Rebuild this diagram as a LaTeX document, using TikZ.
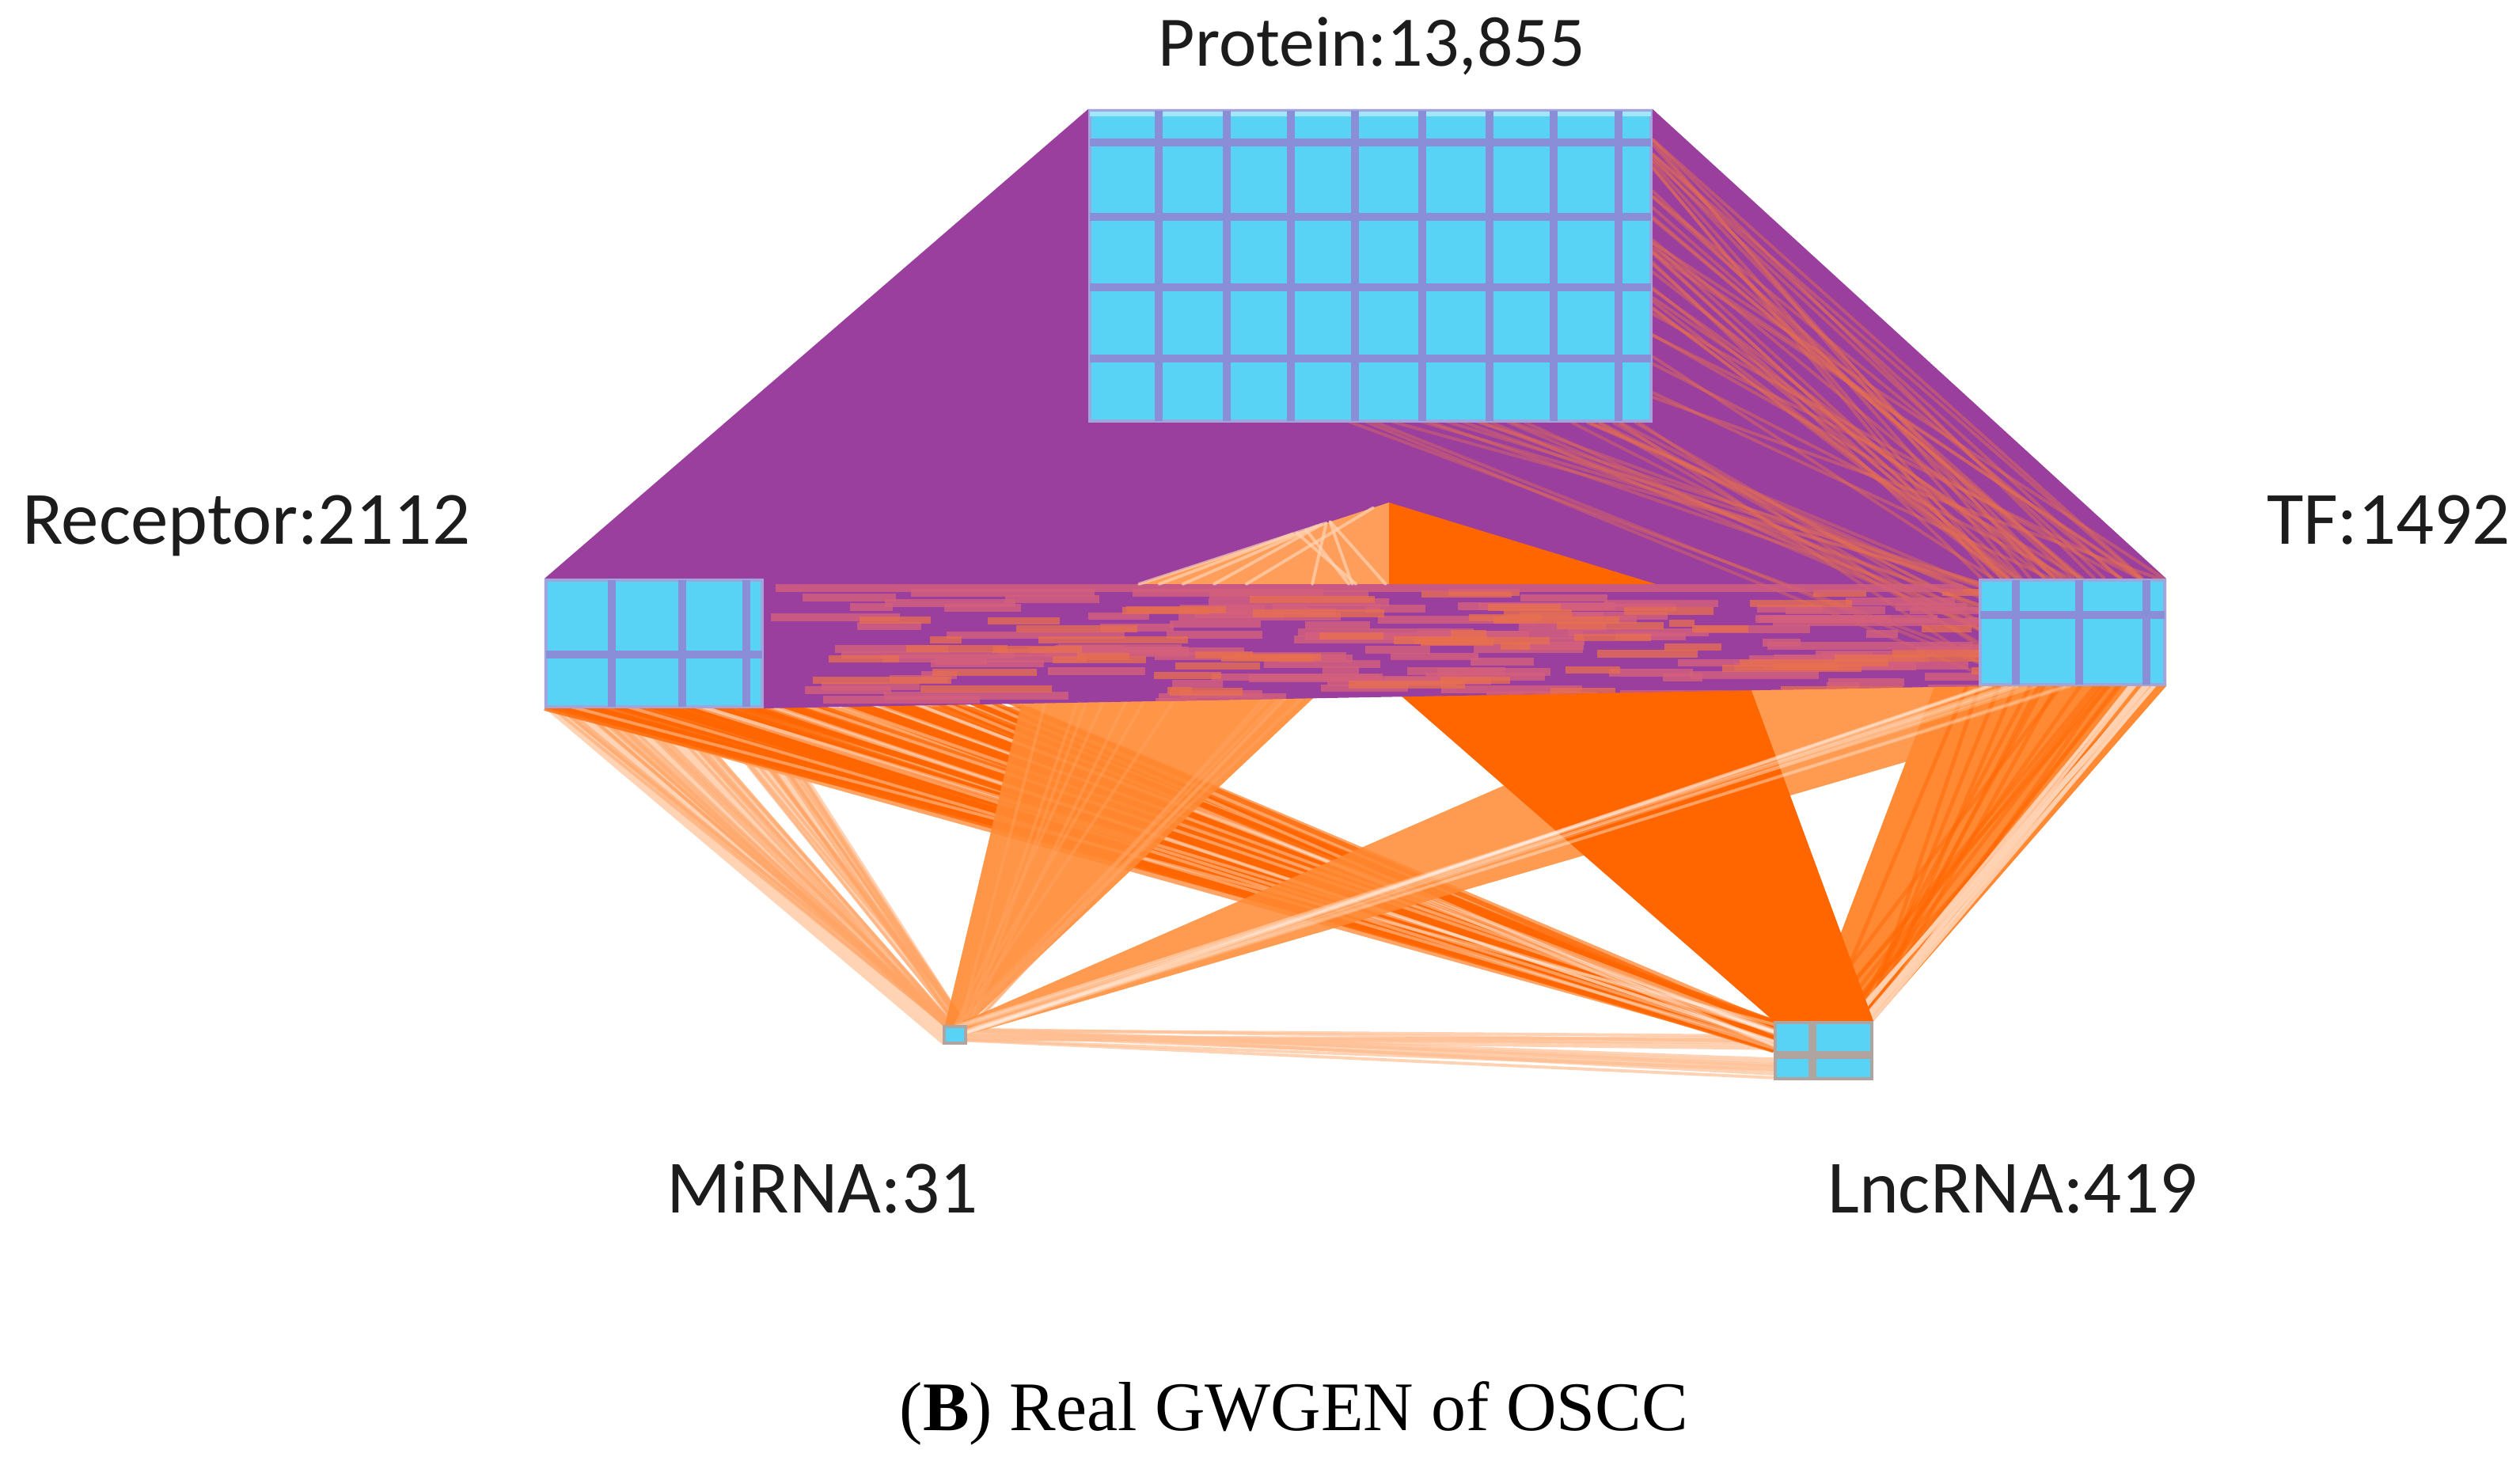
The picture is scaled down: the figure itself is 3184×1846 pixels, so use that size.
\documentclass[tikz,border=0pt]{standalone}
\usepackage{fontspec}
\newfontfamily\labfont{Carlito}
\newfontfamily\capfont{Liberation Serif}
\usetikzlibrary{calc}
\definecolor{cy}{HTML}{58D2F5}
\definecolor{gridc}{HTML}{8A8ED6}
\definecolor{pur}{HTML}{9B3F9E}
\definecolor{dor}{HTML}{FF6600}
\definecolor{mor}{HTML}{FF8A33}
\definecolor{lor}{HTML}{FFA464}
\definecolor{pch}{HTML}{FFD3B4}
\definecolor{sal}{HTML}{E8704F}
\definecolor{pnk}{HTML}{D4607C}
\definecolor{txt}{HTML}{1C1C1C}
\definecolor{lgrid}{HTML}{B0A4A0}
\pgfdeclarelayer{bgl}
\pgfdeclarelayer{edges}
\pgfsetlayers{bgl,edges,main}
\newcommand\bundle[6]{%
  \foreach \k in {1,...,#5}{%
    \pgfmathsetmacro\ra{rnd}%
    \pgfmathsetmacro\rb{rnd}%
    \draw[#6] ($(#1)!\ra!(#2)$) -- ($(#3)!\rb!(#4)$);%
  }}
\tikzset{
  cybox/.style={rectangle, fill=cy, draw=gridc!80!white, line width=1.1pt, inner sep=0pt},
  gridln/.style={gridc, line width=2.6pt},
  lab/.style={font=\labfont\fontsize{27}{30}\selectfont, text=txt, anchor=base, inner sep=0pt},
  capt/.style={font=\capfont\fontsize{25}{28}\selectfont, text=black, anchor=base, inner sep=0pt},
  thinln/.style={line width=1.1pt, line cap=round},
}
\begin{document}
\begin{tikzpicture}[x=0.01cm,y=-0.01cm]
\pgfmathsetseed{7}
\useasboundingbox (0,0) rectangle (3184,1846);
\begin{pgfonlayer}{bgl}
\fill[white] (0,0) rectangle (3184,1846);
\end{pgfonlayer}

% ---- node boxes ----
\node[cybox, minimum width=7.09cm, minimum height=3.92cm] (P) at (1731.5,336) {};
\node[cybox, minimum width=2.73cm, minimum height=1.60cm] (R) at (826.5,813) {};
\node[cybox, minimum width=2.33cm, minimum height=1.32cm] (T) at (2618.5,799) {};
\node[cybox, draw=lgrid, minimum width=0.27cm, minimum height=0.21cm] (M) at (1206.5,1307.5) {};
\node[cybox, draw=lgrid, minimum width=1.22cm, minimum height=0.71cm] (L) at (2304,1327.5) {};

% grid lines
\fill[cy!55!white] (1377,141) rectangle (2086,147);
\foreach \gx in {1464,1550,1631,1712,1797,1882,1963,2045} \draw[gridln] (\gx,140) -- (\gx,532);
\foreach \gy in {180,274,363,453} \draw[gridln] (1377,\gy) -- (2086,\gy);
\foreach \gx in {773,862,943} \draw[gridln] (\gx,733) -- (\gx,893);
\draw[gridln] (690,827) -- (963,827);
\foreach \gx in {2547,2627,2712} \draw[gridln] (\gx,733) -- (\gx,865);
\draw[gridln] (2502,777) -- (2735,777);
\draw[lgrid, line width=2.6pt] (2290,1292) -- (2290,1363);
\draw[lgrid, line width=2.6pt] (2243,1333) -- (2365,1333);

% ---- helper coordinates ----
\coordinate (rA) at (855,893);
\coordinate (rB) at (885,893);
\coordinate (rLU) at (1301,893);
\coordinate (rTop) at (963,750);
\coordinate (pMR) at (2030,532);
\coordinate (tLL) at (2445,865);
\coordinate (lQ) at (2283,1292);
\coordinate (tQ) at (2690,865);
\coordinate (lR) at (2330,1292);
\coordinate (mR1) at (1220,1300);
\coordinate (mR2) at (1220,1318);
\coordinate (lL1) at (2243,1308);
\coordinate (lL2) at (2243,1362);

\begin{pgfonlayer}{edges}
% Receptor - MiRNA (peach fan)
\fill[pch] (R.south west) -- (rA) -- (M.north) -- (M.south west) -- cycle;
\fill[pch] (rB) -- (R.south east) -- (M.north east) -- (M.north) -- cycle;
\bundle{R.south west}{rA}{M.north west}{M.north}{24}{lor, opacity=.55, thinln}
\bundle{rB}{R.south east}{M.north}{M.north east}{14}{lor, opacity=.55, thinln}
% MiRNA - LncRNA
\bundle{mR1}{mR2}{lL1}{lL2}{16}{lor!70!white, opacity=.7, thinln}
% Receptor - LncRNA
\fill[lor] (R.south west) -- (rLU) -- (L.north west) -- (L.west) -- cycle;
\bundle{R.south west}{rTop}{L.north west}{L.west}{75}{dor, opacity=.75, line width=1.7pt}
\bundle{R.south west}{rTop}{L.north west}{L.west}{14}{white, opacity=.35, thinln}
% Protein - MiRNA
\fill[mor, opacity=.9] (P.south west) -- (pMR) -- (M.north east) -- (M.west) -- cycle;
\bundle{P.south west}{pMR}{M.north}{M.east}{14}{lor, opacity=.4, thinln}
% TF - MiRNA
\fill[mor, opacity=.85] (T.north west) -- (T.south east) -- (M.east) -- (M.north) -- cycle;
% TF - LncRNA
\fill[mor] (tLL) -- (T.south east) -- (L.north east) -- (lQ) -- cycle;
\bundle{tLL}{T.south east}{lQ}{L.north east}{18}{dor, opacity=.45, line width=1.4pt}
\bundle{tQ}{T.south east}{lR}{L.north east}{10}{pch, opacity=.9, thinln}
% Protein - LncRNA
\fill[dor] (P.south west) -- (P.south east) -- (L.north east) -- (L.north west) -- cycle;
\bundle{T.south west}{T.south}{M.north}{M.east}{12}{white, opacity=.22, thinln}

% ---- purple region ----
\fill[pur] (R.north west) -- (P.north west) -- (P.north east) -- (T.north east)
  -- (T.south east) -- (T.south west) -- (R.south east) -- (R.south west) -- cycle;
\begin{scope}
\clip (R.north west) -- (P.north west) -- (P.north east) -- (T.north east)
  -- (T.south east) -- (T.south west) -- (R.south east) -- (R.south west) -- cycle;
% diagonal streaks protein -> TF
\bundle{P.north east}{P.south east}{T.north west}{T.north east}{40}{sal, opacity=.45, thinln}
\coordinate (pB) at (1700,532);
\bundle{pB}{P.south east}{T.north west}{T.south west}{25}{sal, opacity=.4, thinln}
% horizontal streaks receptor <-> TF
\foreach \k in {1,...,120}{%
  \pgfmathsetmacro\sx{965+rnd*1530}%
  \pgfmathsetmacro\sy{748+rnd*140}%
  \pgfmathsetmacro\sl{40+rnd*220}%
  \draw[pnk, opacity=.8, line width=2.8pt] (\sx,\sy) -- ++(\sl,0);
}
\foreach \k in {1,...,60}{%
  \pgfmathsetmacro\sx{965+rnd*1530}%
  \pgfmathsetmacro\sy{748+rnd*140}%
  \pgfmathsetmacro\sl{30+rnd*160}%
  \draw[sal, opacity=.75, line width=2.6pt] (\sx,\sy) -- ++(\sl,0);
}
\draw[pnk, opacity=.8, line width=2.6pt] (980,743) -- (2480,743);
\end{scope}

% ---- orange triangle inside the purple band ----
\coordinate (ta) at (1755,635);
\coordinate (tl) at (1439,738);
\coordinate (tr) at (2092,738);
\coordinate (tm) at (1755,738);
\fill[lor!90!dor] (tl) -- (ta) -- (tm) -- cycle;
\fill[dor] (ta) -- (tr) -- (tm) -- cycle;
\coordinate (tq) at ($(ta)!0.4!(tl)$);
\bundle{ta}{tq}{tl}{tm}{10}{pch, opacity=.7, thinln}
\end{pgfonlayer}

% ---- labels ----
\node[lab, font=\labfont\fontsize{25.5}{28}\selectfont] (lP) at (1733,84) {Protein:13,855};
\node[lab] (lR) at (311,688) {Receptor:2112};
\node[lab] (lT) at (3018,688) {TF:1492};
\node[lab] (lM) at (1039,1532) {MiRNA:31};
\node[lab] (lL) at (2543,1532) {LncRNA:419};
\node[capt] (cap) at (1635,1807) {(\textbf{B}) Real GWGEN of OSCC};
\end{tikzpicture}
\end{document}
